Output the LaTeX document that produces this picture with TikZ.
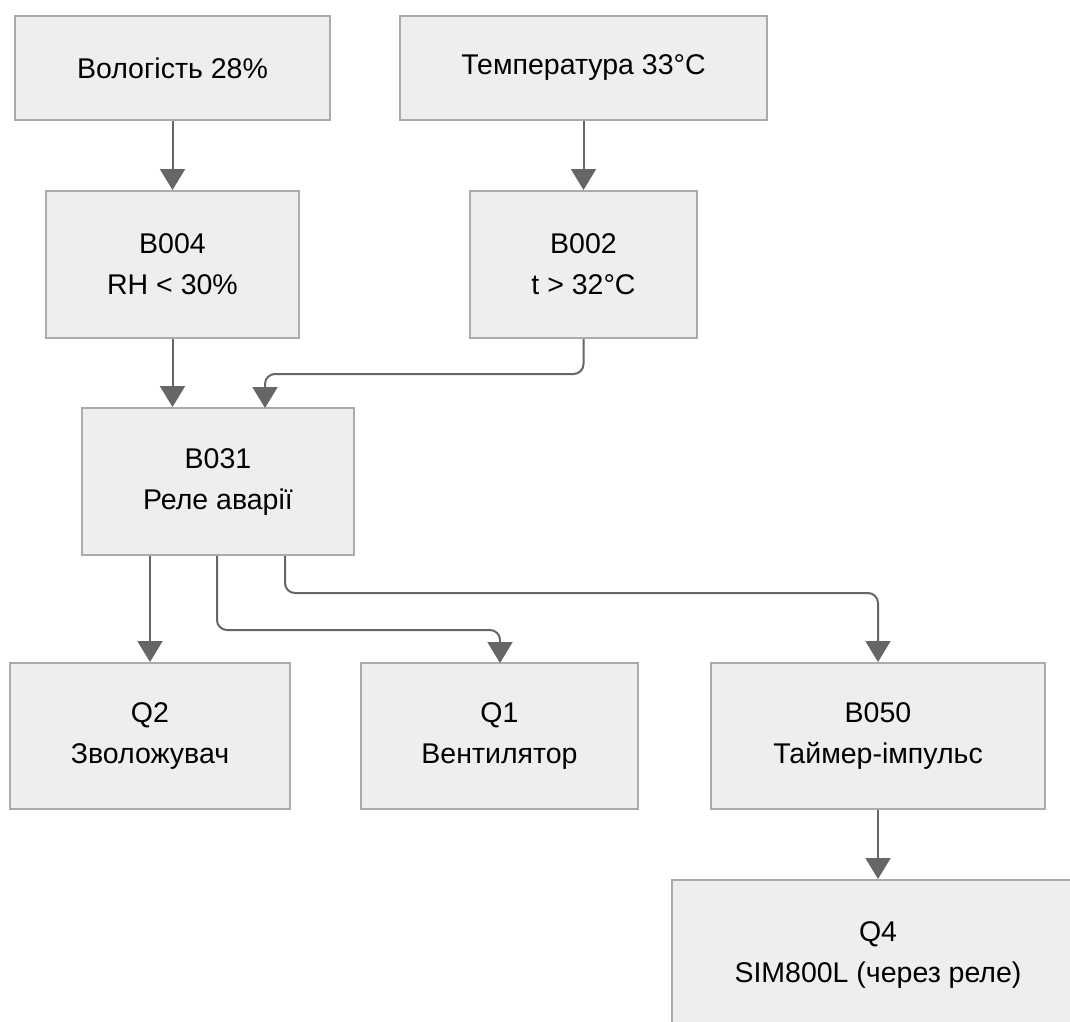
\documentclass[tikz,border=0pt]{standalone}
\usepackage{fontspec}
\setmainfont{Liberation Sans}
\usetikzlibrary{arrows.meta}
\definecolor{boxfill}{HTML}{EEEEEE}
\definecolor{boxline}{HTML}{ABABAB}
\definecolor{wire}{HTML}{666666}
\tikzset{
  blk/.style={draw=boxline, fill=boxfill, line width=2pt, inner sep=0pt, align=center,
    font=\fontsize{28.5}{41}\selectfont, text=black},
  wirearrow/.style={draw=wire, line width=2pt, rounded corners=10pt,
    -{Triangle[width=25pt,length=21pt]}}
}
\begin{document}
\begin{tikzpicture}[x=1pt,y=-1pt]
\useasboundingbox (0,0) rectangle (1070,1021);
\clip (0,0) rectangle (1070,1021);
\fill[white] (0,0) rectangle (1070,1021);
\node[blk, minimum width=315pt, minimum height=104pt] (v) at (172.5,68) {Вологість 28\%};
\node[blk, minimum width=367pt, minimum height=104pt] (t) at (583.5,68) {Температура 33°C};
\node[blk, minimum width=253pt, minimum height=147pt] (b004) at (172.5,264.5) {B004\\RH < 30\%};
\node[blk, minimum width=227pt, minimum height=147pt] (b002) at (583.5,264.5) {B002\\t > 32°C};
\node[blk, minimum width=272pt, minimum height=147pt] (b031) at (218,481.5) {B031\\Реле аварії};
\node[blk, minimum width=280pt, minimum height=146pt] (q2) at (150,736) {Q2\\Зволожувач};
\node[blk, minimum width=277pt, minimum height=146pt] (q1) at (499.5,736) {Q1\\Вентилятор};
\node[blk, minimum width=334pt, minimum height=146pt] (b050) at (878,736) {B050\\Таймер-імпульс};
\node[blk, minimum width=412pt, minimum height=150pt] (q4) at (878,955) {Q4\\SIM800L (через реле)};

\draw[wirearrow] (v.south) -- (b004.north);
\draw[wirearrow] (t.south) -- (b002.north);
\draw[wirearrow] (b004.south) -- (b004.south |- b031.north);
\draw[wirearrow] (b002.south) -- (583.5,374) -- (265,374) -- (265,408);
\draw[wirearrow] ([xshift=-68pt]b031.south) -- (q2.north);
\draw[wirearrow] ([xshift=-1pt]b031.south) -- (217,630) -- (500,630) -- (500,663);
\draw[wirearrow] ([xshift=67pt]b031.south) -- (285,593) -- (878,593) -- (b050.north);
\draw[wirearrow] (b050.south) -- (q4.north);
\end{tikzpicture}
\end{document}
